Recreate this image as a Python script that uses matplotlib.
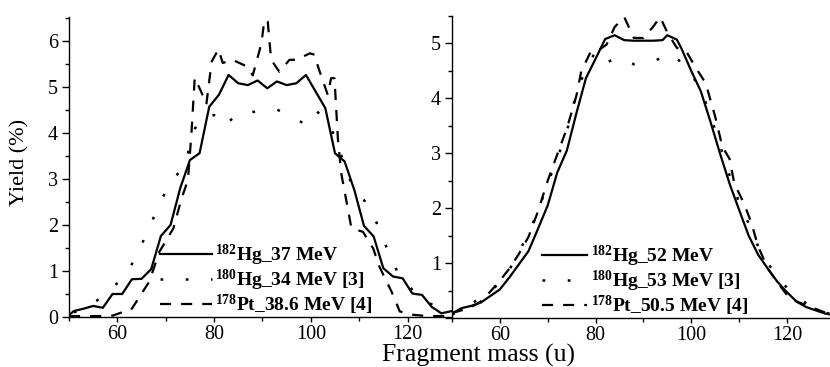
import matplotlib
matplotlib.use("Agg")
import matplotlib.pyplot as plt
from matplotlib.ticker import MultipleLocator

plt.rcParams["font.family"] = ["Liberation Serif", "DejaVu Serif"]
plt.rcParams["mathtext.fontset"] = "custom"
plt.rcParams["mathtext.rm"] = "Liberation Serif"
plt.rcParams["mathtext.bf"] = "Liberation Serif:bold"

# ---- Left panel: lower excitation energies ----
mass_hg182_37 = [50, 51, 53, 55, 57, 59, 61, 63, 65, 67, 69, 71, 73, 75, 77, 79, 81, 83, 85, 87,
                 89, 91, 93, 95, 97, 99, 101, 103, 105, 107, 109, 111, 113, 115, 117, 119, 121,
                 123, 125, 127, 129.2]
yield_hg182_37 = [0.04, 0.13, 0.18, 0.24, 0.2, 0.5, 0.5, 0.82, 0.83, 1.04, 1.76, 2.0, 2.8, 3.41,
                  3.56, 4.57, 4.83, 5.26, 5.08, 5.04, 5.14, 4.97, 5.12, 5.04, 5.08, 5.26, 4.9,
                  4.54, 3.56, 3.38, 2.76, 1.98, 1.75, 1.06, 0.88, 0.84, 0.51, 0.48, 0.22, 0.08,
                  0.13]

mass_hg180_34 = [51, 53, 55, 57, 59, 61, 63, 65, 67, 69, 71, 72, 74, 75.5, 77, 80, 82, 85, 88.5,
                 93, 96, 98.7, 101, 104, 106, 108.4, 110.8, 112.5, 114.2, 115.3, 116.7, 118,
                 120.5, 122, 124, 126, 127.7, 129.2]
yield_hg180_34 = [0.1, 0.18, 0.3, 0.45, 0.63, 0.85, 1.15, 1.57, 2.04, 2.52, 2.93, 3.05, 3.3,
                  3.96, 4.32, 4.39, 4.14, 4.43, 4.46, 4.51, 4.35, 4.2, 4.5, 4.17, 3.6, 2.9, 2.58,
                  2.27, 1.93, 1.6, 1.28, 0.95, 0.66, 0.45, 0.33, 0.22, 0.19, 0.12]

mass_pt178_386 = [50, 56, 59, 61.5, 62.8, 64.6, 66.6, 68.7, 71.6, 73.2, 74.6, 75.3, 76, 77.4,
                  78.4, 79.5, 80.9, 81.8, 83.8, 86.9, 88, 89.8, 90.4, 91.1, 91.8, 93.5, 95.6,
                  97, 99.8, 100.8, 101.5, 103.5, 104.2, 104.9, 105.6, 106.3, 107.7, 108.4,
                  110.8, 112.9, 114.2, 116.7, 117.7, 118.4, 121, 124, 129.2]
yield_pt178_386 = [0.02, 0.02, 0.03, 0.12, 0.15, 0.44, 0.77, 1.42, 1.93, 2.55, 2.98, 3.96, 5.2,
                   4.88, 4.62, 5.55, 5.82, 5.52, 5.59, 5.44, 5.25, 5.95, 6.46, 6.42, 5.59, 5.33,
                   5.59, 5.59, 5.73, 5.7, 5.44, 4.83, 5.19, 5.19, 3.88, 3.12, 2.33, 1.93, 1.85,
                   1.49, 1.09, 0.55, 0.3, 0.12, 0.05, 0.02, 0.02]

# ---- Right panel: higher excitation energies ----
mass_hg182_52 = [50, 52, 54, 56, 58, 60, 62, 64, 66, 68, 70, 72, 74, 76, 78, 80, 82, 84, 86, 88,
                 90, 92, 94, 95, 97, 98, 100, 102, 104, 106, 108, 110, 112, 114, 116, 118, 120,
                 122, 124, 126, 128, 130]
yield_hg182_52 = [0.08, 0.18, 0.22, 0.28, 0.4, 0.52, 0.74, 0.98, 1.22, 1.63, 2.05, 2.65, 3.05,
                  3.73, 4.37, 4.72, 5.08, 5.15, 5.06, 5.05, 5.05, 5.05, 5.06, 5.15, 5.07, 4.9,
                  4.5, 4.13, 3.58, 3.0, 2.45, 1.97, 1.5, 1.15, 0.9, 0.66, 0.47, 0.3, 0.2, 0.14,
                  0.08, 0.05]

mass_hg180_53 = [50, 52, 54, 56, 58, 60, 62, 64, 66, 68, 70, 72, 74, 76, 78, 80, 82, 84, 86, 88,
                 90, 92, 94, 96, 98, 100, 102, 104, 106, 108, 110, 112, 114, 116, 118, 120, 122,
                 124, 126, 128, 130]
yield_hg180_53 = [0.06, 0.15, 0.25, 0.38, 0.5, 0.63, 0.88, 1.2, 1.55, 1.95, 2.45, 2.9, 3.4, 4.1,
                  4.55, 4.85, 4.64, 4.72, 4.72, 4.62, 4.66, 4.68, 4.74, 4.82, 4.64, 4.45, 4.15,
                  3.7, 3.15, 2.6, 2.1, 1.72, 1.3, 1.0, 0.75, 0.55, 0.4, 0.27, 0.17, 0.1, 0.05]

mass_pt178_505 = [50, 52, 54, 56, 58, 60, 62, 64, 66, 68, 70, 72, 74, 76, 77, 79, 81, 82.3, 84,
                  86, 88, 90, 92, 93.5, 95, 97, 99, 101, 103, 105, 106.5, 108, 109, 111, 112.5,
                  114, 116, 118, 120, 122, 125, 128, 130]
yield_pt178_505 = [0.09, 0.14, 0.2, 0.3, 0.48, 0.68, 0.9, 1.17, 1.48, 1.95, 2.5, 2.98, 3.45,
                   4.05, 4.49, 4.85, 4.9, 4.98, 5.3, 5.48, 5.1, 5.1, 5.3, 5.48, 5.2, 4.92, 4.85,
                   4.55, 4.28, 3.67, 3.12, 2.9, 2.45, 2.09, 1.75, 1.3, 0.9, 0.65, 0.42, 0.3,
                   0.2, 0.1, 0.07]

labels_left = [r"$\mathbf{^{182}}$Hg_37 MeV", r"$\mathbf{^{180}}$Hg_34 MeV [3]",
               r"$\mathbf{^{178}}$Pt_38.6 MeV [4]"]
labels_right = [r"$\mathbf{^{182}}$Hg_52 MeV", r"$\mathbf{^{180}}$Hg_53 MeV [3]",
                r"$\mathbf{^{178}}$Pt_50.5 MeV [4]"]

solid_style = dict(color="black", lw=1.6, linestyle="-")
dot_style = dict(color="black", lw=1.8, linestyle=(0, (1.1, 9)))
dash_style = dict(color="black", lw=1.6, linestyle=(0, (5, 4.5)))

W, H = 830, 367
fig = plt.figure(figsize=(W / 100, H / 100), dpi=100)
ax1 = fig.add_axes([69 / W, (H - 317) / H, 383 / W, 300 / H])
ax2 = fig.add_axes([452 / W, (H - 318) / H, 378 / W, 302 / H])
ax2.patch.set_alpha(0)

ax1.plot(mass_hg182_37, yield_hg182_37, label=labels_left[0], **solid_style)
ax1.plot(mass_hg180_34, yield_hg180_34, label=labels_left[1], **dot_style)
ax1.plot(mass_pt178_386, yield_pt178_386, label=labels_left[2], **dash_style)

ax2.plot(mass_hg182_52, yield_hg182_52, label=labels_right[0], **solid_style)
ax2.plot(mass_hg180_53, yield_hg180_53, label=labels_right[1], **dot_style)
ax2.plot(mass_pt178_505, yield_pt178_505, label=labels_right[2], **dash_style)

ax1.set_xlim(50, 129.2)
ax1.set_ylim(0, 6.52)
ax2.set_xlim(50, 129)
ax2.set_ylim(0, 5.5)

for ax in (ax1, ax2):
    for side in ("top", "right"):
        ax.spines[side].set_visible(False)
    for side in ("left", "bottom"):
        ax.spines[side].set_linewidth(1.0)
    ax.set_xticks([60, 80, 100, 120])
    ax.xaxis.set_minor_locator(MultipleLocator(10))
    ax.yaxis.set_minor_locator(MultipleLocator(0.5))
    ax.tick_params(axis="both", which="major", direction="out", width=1.0, labelsize=14.5)
    ax.tick_params(axis="y", which="major", length=5, pad=3)
    ax.tick_params(axis="x", which="major", length=3.5, pad=2)
    ax.tick_params(axis="both", which="minor", direction="out", width=1.0, length=3)

ax1.set_yticks([0, 1, 2, 3, 4, 5, 6])
ax2.set_yticks([0, 1, 2, 3, 4, 5])
ax2.set_yticklabels(["", "1", "2", "3", "4", "5"])

legend_kw = dict(loc="lower left", frameon=False, borderpad=0, borderaxespad=0,
                 labelspacing=0.0, handletextpad=0.2,
                 prop={"family": "Liberation Serif", "weight": "bold", "size": 14})
ax1.legend(bbox_to_anchor=(0.2376, 0.0), handlelength=2.65, **legend_kw)
ax2.legend(bbox_to_anchor=(0.238, 0.0), handlelength=2.3, **legend_kw)

fig.text(0.024, 0.558, "Yield (%)", rotation=90, ha="center", va="center", fontsize=16)
fig.text(0.576, 0.032, "Fragment mass (u)", ha="center", va="center", fontsize=18.5)

fig.savefig("out.png", dpi=100)
